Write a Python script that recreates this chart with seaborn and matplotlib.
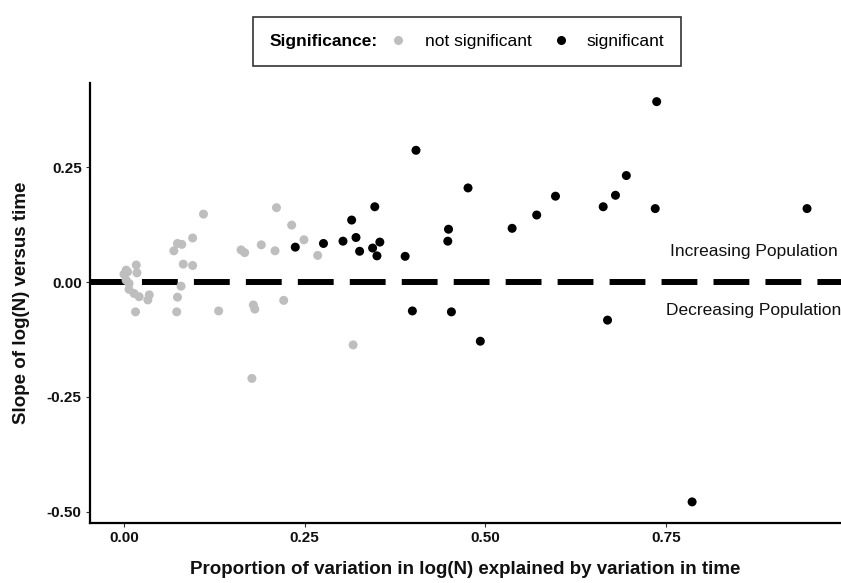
import matplotlib
matplotlib.use("Agg")
import matplotlib.pyplot as plt
from matplotlib.lines import Line2D
from matplotlib.offsetbox import HPacker
import seaborn as sns
import pandas as pd

# ---- data ----
ns_x = [0.017, 0.003, 0.000, 0.005, 0.018, 0.003, 0.007, 0.007, 0.014, 0.021, 0.035, 0.033, 0.016,
        0.110, 0.074, 0.069, 0.080, 0.095, 0.162, 0.167, 0.190, 0.209, 0.082, 0.095, 0.079, 0.074,
        0.073, 0.131, 0.179, 0.181, 0.177, 0.211, 0.232, 0.249, 0.268, 0.221, 0.317]
ns_y = [0.037, 0.026, 0.017, 0.022, 0.020, 0.004, -0.003, -0.016, -0.025, -0.032, -0.028, -0.039, -0.065,
        0.148, 0.084, 0.068, 0.082, 0.096, 0.070, 0.064, 0.081, 0.068, 0.039, 0.036, -0.009, -0.033,
        -0.065, -0.063, -0.050, -0.059, -0.210, 0.162, 0.124, 0.092, 0.058, -0.040, -0.137]
sig_x = [0.237, 0.276, 0.303, 0.315, 0.321, 0.326, 0.347, 0.344, 0.354, 0.350, 0.389, 0.404, 0.399,
         0.449, 0.448, 0.453, 0.476, 0.493, 0.537, 0.571, 0.597, 0.663, 0.680, 0.695, 0.737, 0.735,
         0.945, 0.669, 0.786]
sig_y = [0.076, 0.084, 0.089, 0.135, 0.097, 0.067, 0.164, 0.074, 0.087, 0.057, 0.056, 0.287, -0.063,
         0.115, 0.089, -0.065, 0.205, -0.129, 0.117, 0.146, 0.187, 0.164, 0.189, 0.232, 0.393, 0.160,
         0.160, -0.083, -0.479]
categories = ["not significant", "significant"]
x_ticks = [0.00, 0.25, 0.50, 0.75]
y_ticks = [-0.50, -0.25, 0.00, 0.25]

df = pd.DataFrame({
    "r2": ns_x + sig_x,
    "slope": ns_y + sig_y,
    "Significance": [categories[0]] * len(ns_x) + [categories[1]] * len(sig_x),
})

sns.set_theme(style="white")
plt.rcParams["font.family"] = ["Liberation Sans", "DejaVu Sans"]
plt.rcParams["text.color"] = "black"
plt.rcParams["axes.labelcolor"] = "black"

palette = {"not significant": "#BEBEBE", "significant": "#000000"}

fig = plt.figure(figsize=(8.41, 5.83), dpi=100)
ax = fig.add_axes([90 / 841, 60 / 583, 751 / 841, 440 / 583])

ax.axhline(0, color="black", linewidth=4.3, dashes=(6.0, 2.7), zorder=1)

sns.scatterplot(data=df, x="r2", y="slope", hue="Significance", palette=palette,
                hue_order=categories, s=42, linewidth=0, legend=False, ax=ax, zorder=3)

ax.set_xlim(-0.047, 0.992)
ax.set_ylim(-0.525, 0.4336)
ax.set_xticks(x_ticks)
ax.set_xticklabels([f"{t:.2f}" for t in x_ticks])
ax.set_yticks(y_ticks)
ax.set_yticklabels([f"{t:.2f}" for t in y_ticks])

for side in ["top", "right"]:
    ax.spines[side].set_visible(False)
for side in ["left", "bottom"]:
    ax.spines[side].set_color("black")
    ax.spines[side].set_linewidth(1.6)

ax.tick_params(axis="both", which="major", length=3, width=0.8, color="#333333",
               labelsize=11, labelcolor="#111111", pad=3, bottom=True, left=True)
for lab in ax.get_xticklabels() + ax.get_yticklabels():
    lab.set_fontweight("bold")

ax.set_xlabel("Proportion of variation in log(N) explained by variation in time",
              fontsize=13.5, fontweight="bold", labelpad=11, color="#111111")
ax.set_ylabel("Slope of log(N) versus time", fontsize=13.5, fontweight="bold", labelpad=12,
              color="#111111")

ax.text(0.988, 0.066, "Increasing Population", ha="right", va="center", fontsize=12.5, color="#111111")
ax.text(0.992, -0.063, "Decreasing Population", ha="right", va="center", fontsize=12.5, color="#111111")

fs = 12.5
handles = [
    Line2D([], [], linestyle="none", marker="o", markersize=6.5, markerfacecolor=palette[c],
           markeredgewidth=0)
    for c in categories
]
leg = fig.legend(handles, categories, loc="center",
                 bbox_to_anchor=(467 / 841, 1 - 41.5 / 583), ncol=2, frameon=True,
                 fancybox=False, edgecolor="black", fontsize=fs, handlelength=0.6,
                 handletextpad=1.2, columnspacing=1.4, borderpad=0.95,
                 title="Significance:", title_fontproperties={"weight": "bold", "size": fs})
leg.get_frame().set_linewidth(1.2)
# put the title on the same row as the entries (ggplot-style horizontal legend)
leg._legend_box = HPacker(pad=leg.borderpad * fs, sep=0.9 * fs, align="center",
                          children=[leg._legend_title_box, leg._legend_handle_box])
leg._legend_box.set_figure(fig)
leg._legend_box.set_offset(leg._findoffset)

fig.savefig("out.png", dpi=100)
